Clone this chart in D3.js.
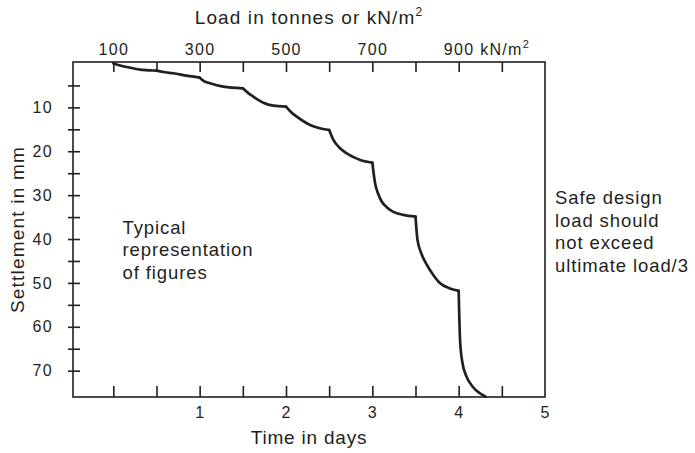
<!DOCTYPE html>
<html>
<head>
<meta charset="utf-8">
<script src="https://cdn.jsdelivr.net/npm/d3@7"></script>
<style>
  html, body { margin: 0; padding: 0; background: #fff; }
  svg { display: block; }
  text { font-family: "Liberation Sans", Arial, Helvetica, sans-serif; fill: #231f20; }
</style>
</head>
<body>
<svg id="chart" width="695" height="453"></svg>
<script>
// Load stages: each stage adds 100 kN/m2 and is held for half a day
const stageLoads = [100, 200, 300, 400, 500, 600, 700, 800, 900];

// Readings per stage: time in days and settlement in mm
const stageTimes = [
  [0, 0.08, 0.155, 0.31, 0.46, 0.5],
  [0.5, 0.6, 0.695, 0.85, 1.0],
  [1.0, 1.05, 1.12, 1.275, 1.5],
  [1.5, 1.56, 1.622, 1.738, 1.854, 2.0],
  [2.0, 2.06, 2.125, 2.279, 2.38, 2.5],
  [2.5, 2.549, 2.62, 2.705, 2.79, 2.859, 3.0],
  [3.0, 3.032, 3.07, 3.11, 3.17, 3.244, 3.36, 3.5],
  [3.5, 3.523, 3.57, 3.632, 3.71, 3.786, 3.89, 4.0],
  [4.0, 4.015, 4.04, 4.09, 4.16, 4.25, 4.31]
];
const stageSettlements = [
  [0, 0.45, 0.8, 1.4, 1.6, 1.62],
  [1.62, 2.0, 2.23, 2.78, 3.23],
  [3.23, 4.0, 4.5, 5.28, 5.65],
  [5.65, 6.7, 7.56, 8.93, 9.61, 9.84],
  [9.84, 11.1, 12.1, 14.0, 14.7, 15.15],
  [15.15, 17.4, 19.2, 20.5, 21.4, 22.0, 22.6],
  [22.6, 27.3, 29.8, 31.5, 32.8, 33.8, 34.5, 34.9],
  [34.9, 40.2, 43.4, 45.9, 48.3, 50.1, 51.2, 51.8],
  [51.8, 62.5, 67.8, 71.3, 73.6, 75.2, 75.9]
];

// Axis ticks and labels
const dayTicks = [0, 0.5, 1, 1.5, 2, 2.5, 3, 3.5, 4, 4.5];
const dayLabels = [1, 2, 3, 4, 5];
const loadTicks = [100, 200, 300, 400, 500, 600, 700, 800, 900, 1000];
const loadLabels = [100, 300, 500, 700, 900];
const settlementTicks = [5, 10, 15, 20, 25, 30, 35, 40, 45, 50, 55, 60, 65, 70];
const settlementLabels = [10, 20, 30, 40, 50, 60, 70];

const ink = "#231f20";
const box = { left: 73, right: 545, top: 62, bottom: 397 };

const svg = d3.select("#chart");

const x = d3.scaleLinear().domain([-0.467, 5]).range([box.left, box.right]);
// load increases by 200 kN/m2 per day, starting at 100 on day 0
const xLoad = d3.scaleLinear().domain([100, 1100]).range([x(0), x(5)]);
const y = d3.scaleLinear().domain([-0.34, 76]).range([box.top, box.bottom]);

// Frame
svg.append("rect")
  .attr("x", box.left).attr("y", box.top)
  .attr("width", box.right - box.left).attr("height", box.bottom - box.top)
  .attr("fill", "none").attr("stroke", ink).attr("stroke-width", 1.6);

function styleTicks(g) {
  g.select(".domain").remove();
  g.selectAll(".tick line").attr("stroke", ink).attr("stroke-width", 1.6);
}
function styleLabels(spacing) {
  return g => {
    g.attr("font-size", 16);
    g.select(".domain").remove();
    g.selectAll("text").style("letter-spacing", spacing);
  };
}

// Bottom axis: inward ticks, then labels
svg.append("g")
  .attr("transform", `translate(0,${box.bottom})`)
  .call(d3.axisTop(x).tickValues(dayTicks).tickSize(11).tickFormat(""))
  .call(styleTicks);
svg.append("g")
  .attr("transform", `translate(0,${box.bottom})`)
  .call(d3.axisBottom(x).tickValues(dayLabels).tickSize(0).tickPadding(9.5).tickFormat(d3.format("d")))
  .call(styleLabels("1px"));

// Top axis: load scale
svg.append("g")
  .attr("transform", `translate(0,${box.top})`)
  .call(d3.axisBottom(xLoad).tickValues(loadTicks).tickSize(10).tickFormat(""))
  .call(styleTicks);
const topLabels = svg.append("g")
  .attr("transform", `translate(0,${box.top})`)
  .call(d3.axisTop(xLoad).tickValues(loadLabels).tickSize(0).tickPadding(7).tickFormat(d3.format("d")))
  .call(styleLabels("1.3px"));
topLabels.selectAll(".tick").filter(d => d === 900).select("text").each(function () {
  const t = d3.select(this);
  const w = this.getComputedTextLength();
  t.attr("text-anchor", "start").attr("x", -w / 2);
  t.append("tspan").text(" kN/m");
  t.append("tspan").attr("font-size", 11).attr("dy", -7).text("2");
});

// Left axis: ticks cross the frame line
svg.append("g")
  .attr("transform", `translate(${box.left},0)`)
  .call(d3.axisLeft(y).tickValues(settlementTicks).tickSize(5).tickFormat(""))
  .call(styleTicks)
  .call(g => g.selectAll(".tick line").attr("x1", 7));
svg.append("g")
  .attr("transform", `translate(${box.left},0)`)
  .call(d3.axisLeft(y).tickValues(settlementLabels).tickSize(0).tickPadding(20).tickFormat(d3.format("d")))
  .call(styleLabels("1.3px"));

// Axis titles
const topTitle = svg.append("text")
  .attr("x", (box.left + box.right) / 2).attr("y", 23.5)
  .attr("text-anchor", "middle").attr("font-size", 19)
  .style("letter-spacing", "1.1px")
  .text("Load in tonnes or kN/m");
topTitle.append("tspan").attr("font-size", 12).attr("dy", -8).text("2");

svg.append("text")
  .attr("x", (box.left + box.right) / 2).attr("y", 444)
  .attr("text-anchor", "middle").attr("font-size", 19)
  .style("letter-spacing", "0.8px")
  .text("Time in days");

svg.append("text")
  .attr("transform", `translate(23.5,${(box.top + box.bottom) / 2}) rotate(-90)`)
  .attr("text-anchor", "middle").attr("font-size", 19)
  .style("letter-spacing", "1.2px")
  .text("Settlement in mm");

// Settlement curve, one smooth piece per load stage
const line = d3.line()
  .x(d => x(d[0]))
  .y(d => y(d[1]))
  .curve(d3.curveMonotoneX);

svg.append("g")
  .selectAll("path")
  .data(stageLoads.map((load, i) => stageTimes[i].map((t, j) => [t, stageSettlements[i][j]])))
  .join("path")
  .attr("d", line)
  .attr("fill", "none")
  .attr("stroke", ink)
  .attr("stroke-width", 2.7)
  .attr("stroke-linecap", "round")
  .attr("stroke-linejoin", "round");

// Notes
const noteLeft = ["Typical", "representation", "of figures"];
svg.append("g").selectAll("text")
  .data(noteLeft).join("text")
  .attr("x", 122.5).attr("y", (d, i) => 233.5 + i * 22.5)
  .attr("font-size", 18.5)
  .style("letter-spacing", "0.9px")
  .text(d => d);

const noteRight = ["Safe design", "load should", "not exceed", "ultimate load/3"];
svg.append("g").selectAll("text")
  .data(noteRight).join("text")
  .attr("x", 555).attr("y", (d, i) => 204 + i * 22.5)
  .attr("font-size", 18.5)
  .style("letter-spacing", "0.9px")
  .text(d => d);
</script>
</body>
</html>
